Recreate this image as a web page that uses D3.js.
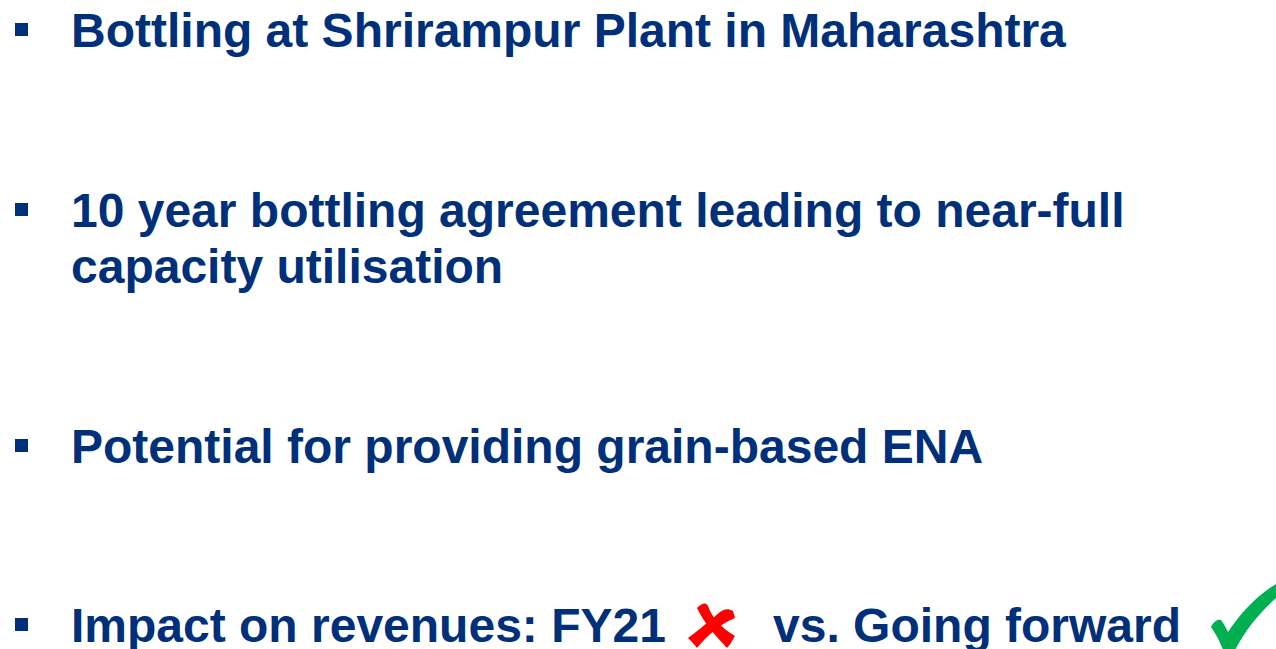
<!DOCTYPE html>
<html>
<head>
<meta charset="utf-8">
<script src="https://cdn.jsdelivr.net/npm/d3@7"></script>
<style>
  html, body { margin: 0; padding: 0; background: #fff; overflow: hidden; }
</style>
</head>
<body>
<div class="slide"></div>
<script>
'use strict';

// bullet texts, one entry per text line
var lineTexts = [
  'Bottling at Shrirampur Plant in Maharashtra',
  '10 year bottling agreement leading to near-full',
  'capacity utilisation',
  'Potential for providing grain-based ENA',
  'Impact on revenues: FY21'
];
// which lines start a new bullet
var lineBullet = [true, true, false, true, true];
// baseline of each line
var lineBaseline = [47, 227, 283, 463, 642];

// tail of last bullet
var tailText = 'vs. Going forward';

var navy = '#00307a';

var svg = d3.select('.slide')
  .append('svg')
  .attr('width', 1276)
  .attr('height', 649);

var y = d3.scaleLinear().domain([0, 649]).range([0, 649]);

var rows = svg.selectAll('g.row')
  .data(lineTexts)
  .enter()
  .append('g')
  .attr('class', 'row')
  .attr('transform', function (d, i) { return 'translate(0,' + y(lineBaseline[i]) + ')'; });

rows.append('text')
  .attr('x', 71)
  .attr('y', 0)
  .style('font-family', '"Liberation Sans", Arial, sans-serif')
  .style('font-weight', 'bold')
  .style('font-size', '48px')
  .style('fill', navy)
  .text(function (d) { return d; });

rows.filter(function (d, i) { return lineBullet[i]; })
  .append('rect')
  .attr('x', 15)
  .attr('y', -24)
  .attr('width', 13)
  .attr('height', 13)
  .style('fill', navy);

svg.append('text')
  .attr('x', 773)
  .attr('y', y(lineBaseline[4]))
  .style('font-family', '"Liberation Sans", Arial, sans-serif')
  .style('font-weight', 'bold')
  .style('font-size', '48px')
  .style('fill', navy)
  .text(tailText);

// red cross after FY21
var cross = svg.append('g');
cross.append('path')
  .attr('d', 'M697,608 C702,603 706,602 708,606 C712,618 722,628 735,636 C732,641 730,645 727,648 C716,636 706,626 697,608 Z')
  .style('fill', '#ff0000');
cross.append('path')
  .attr('d', 'M733,611 C728,608 724,609 720,612 C708,622 699,630 688,638 C692,642 695,645 697,648 C707,636 720,624 735,618 Z')
  .style('fill', '#ff0000');

// green tick at the end
svg.append('path')
  .attr('d', 'M1211,627 C1214,621 1218,619 1221,620 C1224,624 1226,628 1228,632 C1240,614 1256,596 1276,584 L1276,598 C1258,614 1244,632 1234,652 L1224,652 C1220,642 1216,634 1211,627 Z')
  .style('fill', '#00b050');
</script>
</body>
</html>
